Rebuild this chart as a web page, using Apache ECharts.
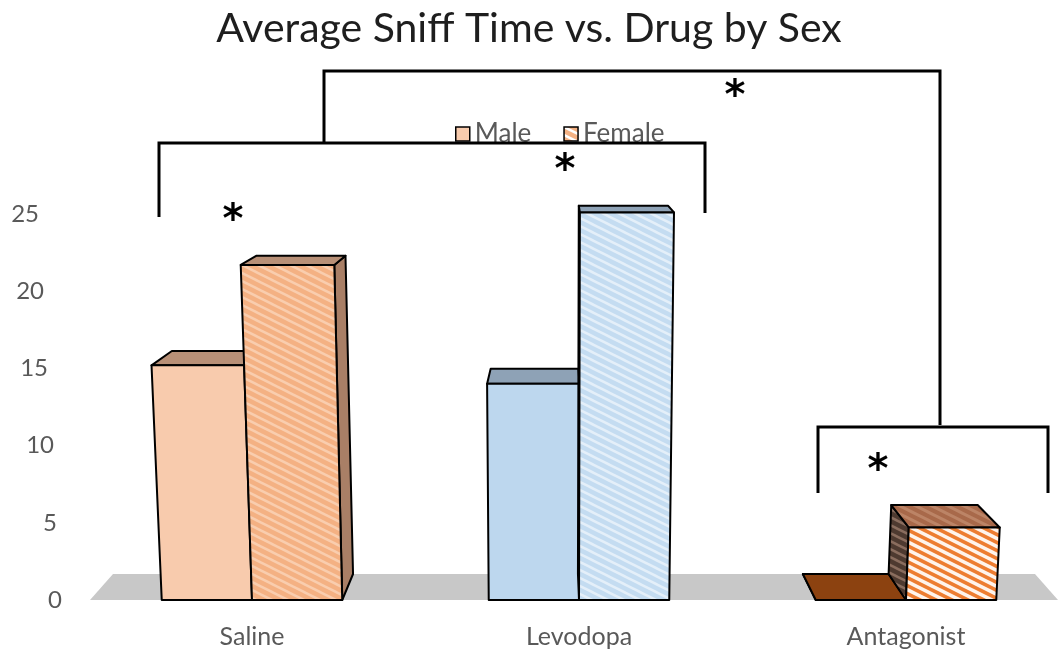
<!DOCTYPE html>
<html>
<head>
<meta charset="utf-8">
<script src="https://cdn.jsdelivr.net/npm/echarts@6/dist/echarts.min.js"></script>
<style>
  html, body { margin: 0; padding: 0; background: #fff; }
  #chart { width: 1058px; height: 656px; }
</style>
</head>
<body>
<div id="chart"></div>
<script>
// data
const categories = ["Saline", "Levodopa", "Antagonist"];
const maleValues = [15.2, 14.0, 0];
const femaleValues = [21.7, 25.1, 4.7];
const yTicks = [0, 5, 10, 15, 20, 25];
const seriesNames = ["Male", "Female"];

// view of the 3d box (pixels)
const VX = 558, VY = 80, DEPTH = 0.05, LEAN = 0.00011;

function stripes(bg, fg, width) {
  const c = document.createElement("canvas");
  c.width = 16;
  c.height = 8;
  const ctx = c.getContext("2d");
  ctx.fillStyle = bg;
  ctx.fillRect(0, 0, 16, 8);
  ctx.strokeStyle = fg;
  ctx.lineWidth = width;
  for (let k = -3; k <= 3; k++) {
    ctx.beginPath();
    ctx.moveTo(-16, -8 + k * 8);
    ctx.lineTo(32, 16 + k * 8);
    ctx.stroke();
  }
  return { image: c, repeat: "repeat" };
}

const maleStyle = [
  { front: "#F8CBAD", top: "#B89077", side: "#A97F66" },
  { front: "#BDD7EE", top: "#8EA2B6", side: "#7F93A6" },
  { front: "#8C4210", top: "#8C4210", side: "#6B3210" },
];
const femaleStyle = [
  { front: stripes("#F4B183", "#F9CDAE", 2.5), top: "#B89077", side: "#A97F66" },
  { front: stripes("#C4DCF1", "#E4EFF9", 2.5), top: "#8EA2B6", side: "#8EA2B6" },
  {
    front: stripes("#ED7D31", "#FFF4EC", 3.5),
    top: stripes("#A8694A", "#BC8466", 3),
    side: stripes("#4E3A30", "#8A6D5E", 2.5),
  },
];

function makeRender(side, styles) {
  return function (params, api) {
    const i = api.value(0);
    const v = api.value(1);
    const c = api.coord([i, 0]);
    const baseY = c[1];
    const half = api.size([1, 0])[0] * 0.276;
    const x0 = side === 0 ? c[0] - half : c[0];
    const x1 = side === 0 ? c[0] : c[0] + half;
    const yt = api.coord([i, v])[1];
    const proj = (x, y, back) => {
      const lx = x + (x - VX) * (baseY - y) * LEAN;
      if (!back) return [lx, y];
      return [lx + (VX - lx) * DEPTH, y + (VY - y) * DEPTH];
    };
    const st = styles[i];
    const face = (pts, fill) => ({
      type: "polygon",
      shape: { points: pts },
      style: { fill: fill, stroke: "#000", lineWidth: 2, lineJoin: "round" },
    });
    const children = [];
    if (x1 < VX) {
      children.push(face([proj(x1, baseY), proj(x1, yt), proj(x1, yt, 1), proj(x1, baseY, 1)], st.side));
    }
    if (x0 > VX) {
      children.push(face([proj(x0, baseY), proj(x0, yt), proj(x0, yt, 1), proj(x0, baseY, 1)], st.side));
    }
    children.push(face([proj(x0, yt), proj(x1, yt), proj(x1, yt, 1), proj(x0, yt, 1)], st.top));
    if (v > 0) {
      children.push(face([proj(x0, baseY), proj(x1, baseY), proj(x1, yt), proj(x0, yt)], st.front));
    }
    return { type: "group", children: children };
  };
}

const labelPad = { 0: 27, 5: 32, 10: 35, 15: 41, 20: 45, 25: 50 };
const rich = {};
yTicks.forEach((t) => {
  rich["l" + t] = { padding: [0, labelPad[t], 0, 0], color: "#595959", fontSize: 24, fontFamily: "Lato" };
});

const options = {
  animation: false,
  title: {
    text: "Average Sniff Time vs. Drug by Sex",
    left: "center",
    top: 3,
    textStyle: { fontFamily: "Lato", fontSize: 41, fontWeight: "normal", color: "#1e1e1e" },
  },
  legend: {
    left: 450,
    top: 116,
    itemWidth: 14,
    itemHeight: 14,
    itemGap: 32,
    textStyle: { fontFamily: "Lato", fontSize: 26, color: "#595959" },
    data: [
      { name: seriesNames[0], icon: "rect", itemStyle: { color: "#F8CBAD", borderColor: "#000", borderWidth: 1.5 } },
      { name: seriesNames[1], icon: "rect", itemStyle: { color: stripes("#F4B183", "#FFF", 2.5), borderColor: "#000", borderWidth: 1.5 } },
    ],
  },
  // categories sit on the grid edges, bars spill half a band either side
  grid: { left: 252, width: 654, top: 214, bottom: 56, containLabel: false },
  xAxis: {
    type: "category",
    data: categories,
    boundaryGap: false,
    axisLine: { show: false },
    axisTick: { show: false },
    axisLabel: { margin: 24, color: "#595959", fontSize: 25, fontFamily: "Lato" },
  },
  yAxis: {
    type: "value",
    min: 0,
    max: 25,
    interval: 5,
    axisLine: { show: false },
    axisTick: { show: false },
    splitLine: { show: false },
    axisLabel: { margin: 163, formatter: (v) => "{l" + v + "|" + v + "}", rich: rich },
  },
  graphic: [
    {
      type: "polygon",
      z: -1,
      shape: { points: [[90, 600], [113, 574], [1035, 574], [1058, 600]] },
      style: { fill: "#C8C8C8" },
    },
    {
      type: "polyline",
      z: 100,
      shape: { points: [[324, 143], [324, 71], [940, 71], [940, 425]] },
      style: { stroke: "#000", lineWidth: 3, fill: null },
    },
    {
      type: "polyline",
      z: 100,
      shape: { points: [[159, 217], [159, 143], [705, 143], [705, 213]] },
      style: { stroke: "#000", lineWidth: 3, fill: null },
    },
    {
      type: "polyline",
      z: 100,
      shape: { points: [[818, 493], [818, 427], [1048, 427], [1048, 493]] },
      style: { stroke: "#000", lineWidth: 3, fill: null },
    },
  ].concat(
    [[233, 212], [565, 162], [735, 88], [878, 462]].map((p) => ({
      type: "text",
      z: 100,
      x: p[0],
      y: p[1] + 10,
      style: {
        text: "*",
        fontSize: 40,
        fontWeight: "bold",
        fontFamily: "DejaVu Sans",
        fill: "#000",
        align: "center",
        verticalAlign: "middle",
      },
    }))
  ),
  series: [
    {
      name: seriesNames[0],
      type: "custom",
      clip: false,
      renderItem: makeRender(0, maleStyle),
      itemStyle: { color: "#F8CBAD" },
      data: maleValues.map((v, i) => [i, v]),
      z: 2,
    },
    {
      name: seriesNames[1],
      type: "custom",
      clip: false,
      renderItem: makeRender(1, femaleStyle),
      itemStyle: { color: "#F4B183" },
      data: femaleValues.map((v, i) => [i, v]),
      z: 3,
    },
  ],
};

const chart = echarts.init(document.getElementById("chart"));
chart.setOption(options);
</script>
</body>
</html>
